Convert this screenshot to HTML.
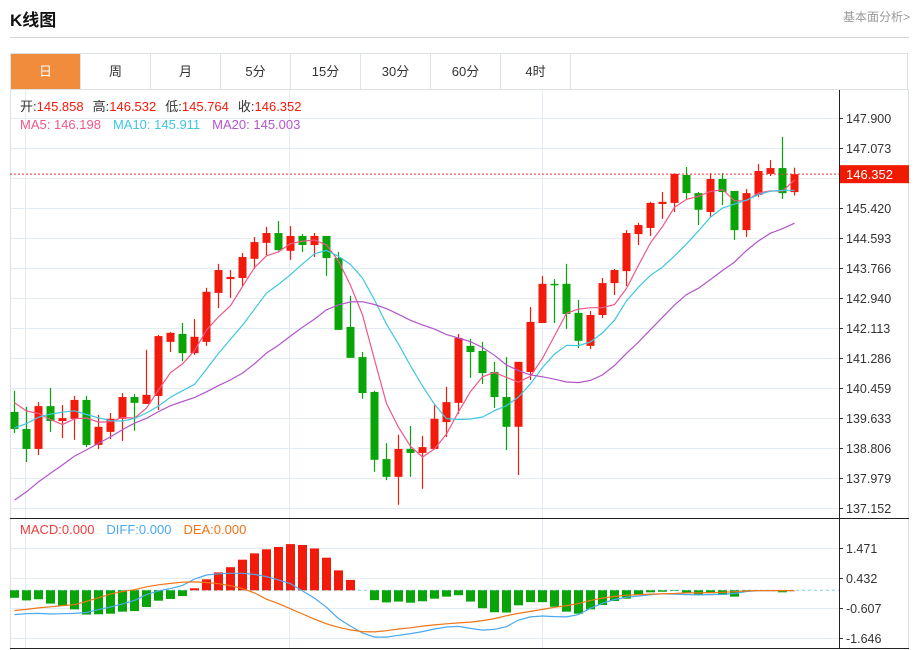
<!DOCTYPE html>
<html><head><meta charset="utf-8">
<style>
body{margin:0;background:#fff;width:918px;height:650px;overflow:hidden;font-family:"Liberation Sans","Noto Sans CJK SC",sans-serif;}
#title{position:absolute;left:10px;top:6px;font-size:17px;font-weight:bold;color:#111;}
#fund{position:absolute;right:8px;top:8px;font-size:12px;color:#999;}
#hr{position:absolute;left:10px;top:37px;width:899px;height:1px;background:#d6d6d6;}
#tabs{position:absolute;left:10px;top:53px;width:898px;height:36px;border:1px solid #dde2e6;border-bottom:none;box-sizing:border-box;}
.tab{position:absolute;top:0;height:35px;width:70px;line-height:35px;text-align:center;font-size:13px;color:#333;border-right:1px solid #dde2e6;box-sizing:border-box;}
.tab.on{background:#f08c3c;color:#fff;}
svg{position:absolute;left:0;top:0;}
</style></head><body>
<div id="title">K线图</div>
<div id="fund">基本面分析&gt;</div>
<div id="hr"></div>
<div id="tabs">
<div class="tab on" style="left:0">日</div>
<div class="tab" style="left:70px">周</div>
<div class="tab" style="left:140px">月</div>
<div class="tab" style="left:210px">5分</div>
<div class="tab" style="left:280px">15分</div>
<div class="tab" style="left:350px">30分</div>
<div class="tab" style="left:420px">60分</div>
<div class="tab" style="left:490px">4时</div>
</div>
<svg id="chart" width="918" height="650"></svg>
<script>
const priorCloses=[134.2,134.5,134.8,135.0,135.3,135.5,135.8,136.0,136.2,136.5,137.6,138.2,138.7,139.1,139.75,139.9,140.3,140.4,140.32];
const opens=[139.80,139.33,138.78,139.96,139.55,139.61,140.13,138.89,139.25,139.61,140.21,140.02,140.24,141.73,141.95,141.42,141.73,143.08,143.46,143.49,144.02,144.46,144.73,144.24,144.65,144.40,144.65,144.04,142.14,141.31,140.35,138.50,138.01,138.78,138.67,138.78,139.52,140.05,141.62,141.48,140.90,140.21,139.39,140.90,142.25,143.33,143.33,142.53,141.62,142.47,143.35,143.68,144.70,144.87,145.53,145.56,146.33,145.83,145.31,146.22,145.89,144.81,145.78,146.36,146.52,145.858];
const closes=[139.33,138.78,139.96,139.55,139.63,140.13,138.89,139.39,139.61,140.21,140.05,140.27,141.89,141.98,141.42,141.87,143.11,143.71,143.52,144.07,144.48,144.73,144.26,144.65,144.40,144.65,144.04,142.06,141.29,140.32,138.48,138.01,138.78,138.67,138.83,139.61,140.07,141.84,141.45,140.87,140.21,139.39,141.18,142.28,143.33,143.30,142.50,141.76,142.47,143.35,143.71,144.73,144.95,145.56,145.59,146.36,145.83,145.37,146.22,145.86,144.81,145.83,146.44,146.52,145.83,146.352];
const highs=[140.38,139.94,140.07,140.46,139.99,140.24,140.24,139.72,139.77,140.32,140.29,141.51,141.92,142.00,142.25,142.36,143.22,143.88,143.71,144.18,144.62,144.90,145.06,144.92,144.70,144.73,144.65,144.21,143.00,141.45,140.38,138.94,139.17,139.41,139.14,139.99,140.49,141.95,141.81,141.73,141.18,141.31,141.18,142.69,143.55,143.46,143.88,142.89,142.58,143.49,143.74,144.81,145.01,145.59,145.86,146.38,146.55,145.86,146.38,146.38,145.89,145.94,146.63,146.74,147.38,146.532];
const lows=[139.22,138.42,138.61,139.25,139.08,139.03,138.83,138.78,139.05,139.00,139.28,140.02,139.85,141.45,141.20,141.37,141.62,142.66,142.94,143.27,143.74,144.12,144.24,143.99,144.21,144.07,143.55,142.06,141.29,140.16,138.15,137.92,137.24,138.01,137.68,138.78,139.11,139.74,140.74,140.57,139.91,138.75,138.06,140.68,142.25,142.25,142.09,141.56,141.53,142.39,143.02,143.27,144.40,144.65,145.12,145.31,145.64,144.95,145.17,145.50,144.54,144.62,145.72,146.30,145.67,145.764];
const macdHist=[-0.26,-0.35,-0.31,-0.46,-0.54,-0.66,-0.84,-0.83,-0.81,-0.74,-0.72,-0.58,-0.36,-0.30,-0.20,0.07,0.38,0.62,0.80,1.06,1.28,1.42,1.50,1.60,1.57,1.45,1.13,0.69,0.36,0,-0.34,-0.42,-0.39,-0.43,-0.38,-0.29,-0.22,-0.17,-0.39,-0.62,-0.76,-0.77,-0.52,-0.41,-0.41,-0.57,-0.74,-0.81,-0.66,-0.51,-0.37,-0.29,-0.15,-0.07,-0.05,-0.02,-0.10,-0.16,-0.10,-0.16,-0.22,-0.04,0,0,-0.07,0];
const difValues=[-0.84,-0.81,-0.80,-0.82,-0.81,-0.80,-0.77,-0.67,-0.58,-0.47,-0.35,-0.15,-0.02,0.06,0.17,0.39,0.53,0.57,0.59,0.59,0.55,0.47,0.36,0.23,-0.02,-0.27,-0.59,-0.98,-1.24,-1.48,-1.62,-1.62,-1.56,-1.50,-1.43,-1.34,-1.27,-1.25,-1.32,-1.38,-1.35,-1.26,-1.03,-0.92,-0.89,-0.91,-0.92,-0.84,-0.62,-0.45,-0.32,-0.24,-0.20,-0.15,-0.12,-0.13,-0.15,-0.16,-0.15,-0.14,-0.11,-0.04,-0.01,-0.01,-0.01,-0.01];
const deaValues=[-0.70,-0.66,-0.61,-0.57,-0.53,-0.50,-0.38,-0.26,-0.13,-0.04,0.02,0.12,0.19,0.24,0.28,0.29,0.27,0.23,0.16,0.06,-0.09,-0.31,-0.46,-0.64,-0.82,-1.00,-1.16,-1.28,-1.37,-1.43,-1.44,-1.40,-1.34,-1.30,-1.24,-1.20,-1.16,-1.13,-1.10,-1.05,-0.98,-0.88,-0.80,-0.73,-0.66,-0.59,-0.53,-0.46,-0.35,-0.27,-0.21,-0.17,-0.15,-0.13,-0.12,-0.11,-0.09,-0.09,-0.08,-0.07,-0.05,-0.02,-0.01,-0.01,-0.01,-0.01];
const priceTicks=["147.900","147.073","146.246","145.420","144.593","143.766","142.940","142.113","141.286","140.459","139.633","138.806","137.979","137.152"];
const macdTicks=["1.471","0.432","-0.607","-1.646"];
const lastClose=146.352;

const NS="http://www.w3.org/2000/svg";
const svg=document.getElementById('chart');
function mk(tag,attrs,parent){const e=document.createElementNS(NS,tag);for(const k in attrs)e.setAttribute(k,attrs[k]);(parent||svg).appendChild(e);return e;}
const X=i=>14.5+12*i;
const Y=p=>118+(147.9-p)*36.286;
const MY=v=>590.3-v*28.87;
const RED="#f21a0a",GREEN="#08a408";

// frame
let e;
e=mk('rect',{x:10.5,y:89.5,width:898,height:559,fill:'none',stroke:'#dde2e6'});


// vertical grid
[25,289,542].forEach(x=>{e=mk('line',{x1:x+.5,x2:x+.5,y1:90,y2:648,stroke:'#e3ecf3'});

});
// price grid + ticks
priceTicks.forEach(t=>{const y=Math.round(Y(parseFloat(t)))+.5;
e=mk('line',{x1:10,x2:839,y1:y,y2:y,stroke:'#e3ecf3'});


mk('line',{x1:839,x2:843,y1:y,y2:y,stroke:'#333'});
e=mk('text',{x:846,y:y+4.5,'font-size':12.5,fill:'#333'});e.textContent=t;

});
macdTicks.forEach(t=>{const y=Math.round(MY(parseFloat(t)))+.5;
e=mk('line',{x1:10,x2:839,y1:y,y2:y,stroke:'#e3ecf3'});


mk('line',{x1:839,x2:843,y1:y,y2:y,stroke:'#333'});
e=mk('text',{x:846,y:y+4.5,'font-size':12.5,fill:'#333'});e.textContent=t;

});
// axes
e=mk('line',{x1:839.5,x2:839.5,y1:90,y2:648,stroke:'#222'});


e=mk('line',{x1:10,x2:909,y1:518.5,y2:518.5,stroke:'#222'});


e=mk('line',{x1:10,x2:909,y1:648.5,y2:648.5,stroke:'#222'});



// candles
closes.forEach((c,i)=>{const o=opens[i],up=c>=o,col=up?RED:GREEN,x=X(i);
const g=mk('g',{});


mk('line',{x1:x,x2:x,y1:Y(highs[i]),y2:Y(lows[i]),stroke:col,'stroke-width':1.2},g);
const t=Y(Math.max(o,c)),b=Y(Math.min(o,c));
mk('rect',{x:x-4,y:t,width:8,height:Math.max(1.5,b-t),fill:col},g);});

// MAs
const all=priorCloses.concat(closes);
function ma(n){return closes.map((_,i)=>{const j=i+priorCloses.length;let s=0;for(let k=j-n+1;k<=j;k++)s+=all[k];return s/n;});}
[[5,'#f0588a','ma5-line'],[10,'#3ec8e0','ma10-line'],[20,'#b356cc','ma20-line']].forEach(([n,col,nm])=>{
const v=ma(n);e=mk('polyline',{points:v.map((p,i)=>X(i)+','+Y(p).toFixed(1)).join(' '),fill:'none',stroke:col,'stroke-width':1.2});

});

// last price line + label
const ly=Y(lastClose);
e=mk('line',{x1:10,x2:839,y1:ly,y2:ly,stroke:'#f03030','stroke-dasharray':'2,2'});


e=mk('rect',{x:840,y:ly-9,width:69,height:18,fill:'#f01a00'});


e=mk('text',{x:846,y:ly+5,'font-size':13,fill:'#fff'});e.textContent=lastClose.toFixed(3);



// MACD
e=mk('line',{x1:10,x2:839,y1:MY(0),y2:MY(0),stroke:'#7cd0e8','stroke-dasharray':'3,3'});


macdHist.forEach((v,i)=>{if(v===0)return;const y0=MY(0),y1=MY(v);
e=mk('rect',{x:X(i)-4.5,y:Math.min(y0,y1),width:9,height:Math.abs(y1-y0),fill:v>0?RED:GREEN});

});
[[difValues,'#4aa8f0','dif-line'],[deaValues,'#f07418','dea-line']].forEach(([arr,col,nm])=>{
e=mk('polyline',{points:arr.map((v,i)=>X(i)+','+MY(v).toFixed(1)).join(' '),fill:'none',stroke:col,'stroke-width':1.2});

});

// legends
function legend(y,items,nm){e=mk('text',{x:20,y:y,'font-size':13});


items.forEach(([s,c,dx])=>{const t=mk('tspan',{fill:c},e);if(dx)t.setAttribute('dx',dx);t.textContent=s;});}
legend(111,[['开:','#333'],['145.858',RED],['高:','#333',9],['146.532',RED],['低:','#333',9],['145.764',RED],['收:','#333',9],['146.352',RED]],'ohlc-legend');
legend(129,[['MA5: 146.198','#f0588a'],['MA10: 145.911','#3ec8e0',12],['MA20: 145.003','#b356cc',12]],'ma-legend');
legend(534,[['MACD:0.000','#f03c3c'],['DIFF:0.000','#4aa8f0',12],['DEA:0.000','#f07418',12]],'macd-legend');
</script>
</body></html>
